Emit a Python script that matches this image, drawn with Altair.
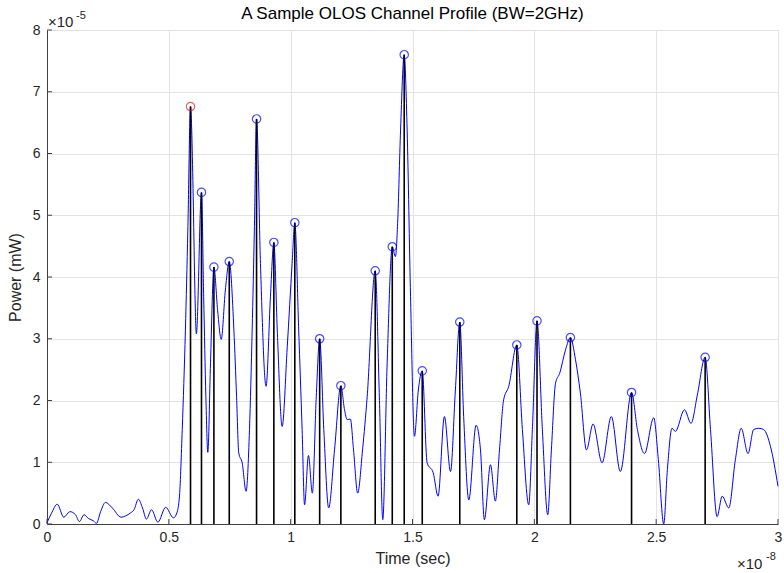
import altair as alt
import pandas as pd

# Time axis in units of 1e-8 s, power in units of 1e-5 mW
time_x1e8 = [0.0, 0.018, 0.042, 0.069, 0.094, 0.117, 0.133, 0.152, 0.170, 0.191,
             0.203, 0.220, 0.240, 0.268, 0.304, 0.322, 0.343, 0.357, 0.375, 0.392,
             0.408, 0.429, 0.455, 0.487, 0.519, 0.533, 0.544, 0.555, 0.568, 0.578,
             0.589, 0.600, 0.606, 0.613, 0.634, 0.643, 0.652, 0.660, 0.671, 0.685,
             0.700, 0.715, 0.732, 0.748, 0.767, 0.778, 0.787, 0.801, 0.817, 0.831,
             0.842, 0.851, 0.860, 0.876, 0.899, 0.917, 0.931, 0.945, 0.965, 0.986,
             1.006, 1.017, 1.033, 1.047, 1.057, 1.073, 1.089, 1.105, 1.119, 1.136,
             1.156, 1.180, 1.206, 1.221, 1.232, 1.245, 1.258, 1.275, 1.295, 1.314,
             1.347, 1.364, 1.378, 1.396, 1.417, 1.430, 1.439, 1.451, 1.466, 1.478,
             1.492, 1.508, 1.524, 1.540, 1.560, 1.585, 1.605, 1.631, 1.656, 1.676,
             1.694, 1.710, 1.731, 1.761, 1.779, 1.795, 1.820, 1.840, 1.857, 1.874,
             1.895, 1.928, 1.951, 1.977, 1.992, 2.011, 2.033, 2.055, 2.070, 2.087,
             2.104, 2.128, 2.148, 2.169, 2.189, 2.214, 2.241, 2.278, 2.316, 2.353,
             2.399, 2.423, 2.452, 2.490, 2.509, 2.531, 2.546, 2.565, 2.579, 2.616,
             2.643, 2.669, 2.701, 2.723, 2.750, 2.771, 2.798, 2.825, 2.849, 2.877,
             2.900, 2.921, 2.941, 2.969, 3.000]
power_x1e5 = [0.02, 0.17, 0.32, 0.11, 0.20, 0.15, 0.04, 0.15, 0.09, 0.05,
              0.01, 0.20, 0.35, 0.26, 0.11, 0.13, 0.18, 0.23, 0.40, 0.26,
              0.08, 0.23, 0.03, 0.27, 0.10, 0.18, 0.47, 1.53, 3.14, 4.76,
              6.76, 5.30, 3.95, 3.08, 5.37, 3.68, 2.06, 1.16, 2.61, 4.16,
              3.47, 2.99, 3.79, 4.25, 3.14, 2.06, 1.15, 0.99, 0.53, 1.53,
              3.14, 4.76, 6.56, 4.22, 2.23, 3.68, 4.56, 3.14, 1.58, 2.87,
              4.22, 4.88, 3.14, 1.53, 0.31, 1.11, 0.50, 2.06, 3.00, 1.53,
              0.26, 1.20, 2.24, 1.85, 1.69, 1.70, 1.20, 0.50, 1.20, 2.06,
              4.10, 2.06, 0.07, 2.61, 4.49, 4.33, 4.87, 6.38, 7.60, 6.38,
              3.68, 1.42, 2.17, 2.48, 0.99, 0.83, 0.45, 1.74, 0.85, 2.17,
              3.27, 1.74, 0.39, 1.60, 1.20, 0.07, 0.96, 0.37, 1.20, 2.01,
              2.23, 2.90, 1.53, 0.31, 1.53, 3.29, 1.53, 0.15, 1.20, 2.28,
              2.44, 2.82, 3.02, 2.66, 2.12, 1.20, 1.62, 0.99, 1.74, 0.85,
              2.13, 1.53, 1.14, 1.72, 1.04, 0.00, 0.88, 1.55, 1.50, 1.85,
              1.63, 2.09, 2.70, 1.53, 0.12, 0.45, 0.26, 1.04, 1.55, 1.14,
              1.53, 1.55, 1.53, 1.26, 0.61]

peak_time_x1e8 = [0.589, 0.634, 0.685, 0.748, 0.860, 0.931, 1.017, 1.119, 1.206, 1.347,
                  1.417, 1.466, 1.540, 1.694, 1.928, 2.011, 2.148, 2.399, 2.701]
peak_power_x1e5 = [6.76, 5.37, 4.16, 4.25, 6.56, 4.56, 4.88, 3.00, 2.24, 4.10,
                   4.49, 7.60, 2.48, 3.27, 2.90, 3.29, 3.02, 2.13, 2.70]

x_ticks = [0, 0.5, 1, 1.5, 2, 2.5, 3]
y_ticks = [0, 1, 2, 3, 4, 5, 6, 7, 8]

TITLE = "A Sample OLOS Channel Profile (BW=2GHz)"

W, H = 731, 494
FONT = "Liberation Sans"
AXC = "#404040"
TXT = "#262626"

curve = pd.DataFrame({"t": time_x1e8, "p": power_x1e5})
peaks = pd.DataFrame({"t": peak_time_x1e8, "p": peak_power_x1e5})
peaks["first"] = peaks.index == 0

xs = alt.Scale(domain=[0, 3], nice=False, zero=False)
ys = alt.Scale(domain=[0, 8], nice=False)

xaxis = alt.Axis(values=x_ticks, format="~g", title="Time (sec)", grid=True,
                 gridColor="#e3e3e3", domainColor=AXC, ticks=False, labelPadding=6,
                 labelFontSize=14, labelColor=TXT, labelFont=FONT,
                 titleFontSize=16, titleFont=FONT, titleColor=TXT, titleFontWeight="normal",
                 titlePadding=6, labelFlush=False)
yaxis = alt.Axis(values=y_ticks, format="~g", title="Power (mW)", grid=True,
                 gridColor="#e3e3e3", domainColor=AXC, ticks=False, labelPadding=7,
                 labelFontSize=14, labelColor=TXT, labelFont=FONT,
                 titleFontSize=16, titleFont=FONT, titleColor=TXT, titleFontWeight="normal",
                 titlePadding=9, labelFlush=False)

line = alt.Chart(curve).mark_line(color="#0000ff", strokeWidth=1, interpolate="monotone").encode(
    x=alt.X("t:Q", scale=xs, axis=xaxis),
    y=alt.Y("p:Q", scale=ys, axis=yaxis),
)

stems = alt.Chart(peaks).mark_rule(color="#000000", strokeWidth=1.6).encode(
    x=alt.X("t:Q", scale=xs),
    y=alt.Y("p:Q", scale=ys),
    y2=alt.datum(0),
)

circles = alt.Chart(peaks).mark_point(shape="circle", filled=False, size=70, strokeWidth=1.2).encode(
    x=alt.X("t:Q", scale=xs),
    y=alt.Y("p:Q", scale=ys),
    color=alt.condition("datum.first", alt.value("#e02020"), alt.value("#0000ff")),
)

xtick_marks = alt.Chart(pd.DataFrame({"v": x_ticks})).mark_rule(color=AXC, strokeWidth=1).encode(
    x=alt.X("v:Q", scale=xs), y=alt.value(H), y2=alt.value(H - 5)
)
ytick_marks = alt.Chart(pd.DataFrame({"v": y_ticks})).mark_rule(color=AXC, strokeWidth=1).encode(
    y=alt.Y("v:Q", scale=ys), x=alt.value(0), x2=alt.value(5)
)

def txt(s, x, y, size, align="left", color=TXT):
    return alt.Chart(pd.DataFrame({"s": [s]})).mark_text(
        align=align, baseline="middle", fontSize=size, font=FONT, color=color
    ).encode(text="s:N", x=alt.value(x), y=alt.value(y))

title_mark = txt(TITLE, W / 2, -16, 17, align="center", color="#000000")
exp_y_a = txt("×10", 1, -8, 15)
exp_y_b = txt("-5", 29, -14, 11)
exp_x_a = txt("×10", 690, H + 40, 15)
exp_x_b = txt("-8", 719, H + 33, 11)

chart = alt.layer(line, stems, circles, xtick_marks, ytick_marks, title_mark,
                  exp_y_a, exp_y_b, exp_x_a, exp_x_b).properties(
    width=W, height=H,
    autosize=alt.AutoSizeParams(type="none"),
    padding={"left": 47, "top": 30, "right": 6, "bottom": 49},
).configure_view(stroke=None).configure(background="white")

chart.save("out.html", embed_options={"renderer": "svg", "actions": False})
